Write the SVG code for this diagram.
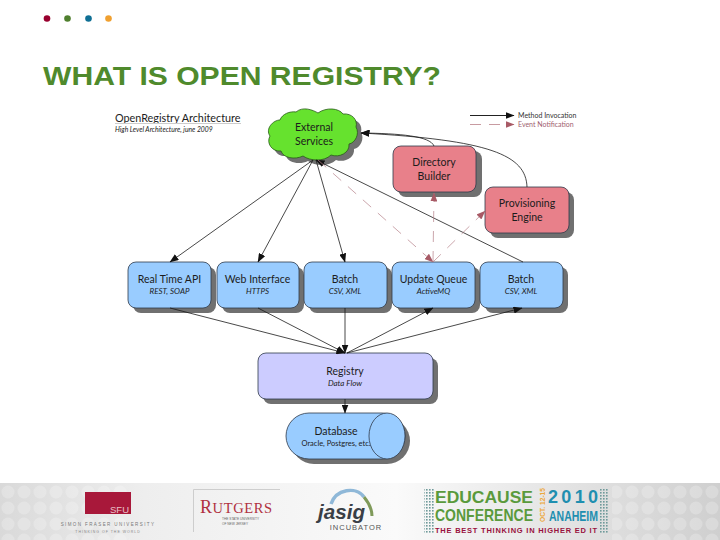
<svg xmlns="http://www.w3.org/2000/svg" width="720" height="540" viewBox="0 0 720 540">
<style>
.t{font-family:"Lato","Liberation Sans",sans-serif;text-anchor:middle;fill:#1c1c1c}
.n{font-size:10.5px}
.s{font-size:8px;font-style:italic}
.box{stroke:#2f3a4a;stroke-width:.8}
.blue{fill:#99ccff}
.red{fill:#e8808a}
.sh{fill:#6f6f6f;filter:url(#b)}
.c{fill:none;stroke:#1a1a1a;stroke-width:.8;marker-end:url(#a)}
.e{fill:none;stroke:#b58088;stroke-width:.7;stroke-dasharray:11 9;marker-end:url(#r)}
</style>
<defs>
<marker id="a" markerWidth="9" markerHeight="7" refX="8.500" refY="3.500" orient="auto" markerUnits="userSpaceOnUse"><path d="M0 0L9 3.500L0 7Z" fill="#111"/></marker>
<marker id="r" markerWidth="9" markerHeight="7" refX="8.500" refY="3.500" orient="auto" markerUnits="userSpaceOnUse"><path d="M0 0L9 3.500L0 7Z" fill="#a85a66"/></marker>
<filter id="b" x="-10%" y="-10%" width="120%" height="120%"><feGaussianBlur stdDeviation=".7"/></filter>
<linearGradient id="band" x1="0" x2="1" y1="0" y2="0"><stop offset="0" stop-color="#d9d9d9"/><stop offset=".2" stop-color="#eeeeee"/><stop offset=".55" stop-color="#fafafa"/><stop offset=".8" stop-color="#e2e2e2"/><stop offset="1" stop-color="#cfcfcf"/></linearGradient>
<pattern id="dots" width="3" height="3" patternUnits="userSpaceOnUse"><rect width="1.600" height="1.600" fill="#6f9a9a"/></pattern>
<pattern id="disc" width="16" height="16" patternUnits="userSpaceOnUse" y="484"><circle cx="8" cy="8" r="6.500" fill="#fff" fill-opacity=".22"/></pattern>
<path id="cl" d="M296 112C303 106 313 110 318 113C326 107 339 108 343 114C352 113 358 120 356 127C360 134 355 143 349 144C350 153 339 158 331 155C324 162 310 161 303 156C295 160 283 158 281 151C272 152 266 143 270 136C265 129 273 120 280 120C282 114 290 111 296 112Z"/>
</defs>
<rect width="720" height="540" fill="#fff"/>
<g id="bullets"><circle cx="47" cy="18.500" r="3.300" fill="#98002e"/><circle cx="67.500" cy="18.500" r="3.300" fill="#4f7f2e"/><circle cx="88.500" cy="18.500" r="3.300" fill="#0f6f94"/><circle cx="108.500" cy="18.500" r="3.300" fill="#f0a030"/></g>
<text x="43" y="85" font-family="Liberation Sans, sans-serif" font-size="25.500" font-weight="bold" textLength="398" lengthAdjust="spacingAndGlyphs" fill="#4f8a2c">WHAT IS OPEN REGISTRY?</text>

<g id="heading"><text x="115" y="121.500" font-family="Lato, sans-serif" font-size="10.800" fill="#1c1c1c">OpenRegistry Architecture</text><line x1="115" y1="123.500" x2="241" y2="123.500" stroke="#ccc"/><text x="115" y="131.500" font-family="Lato, sans-serif" font-size="6.800" font-style="italic" fill="#222">High Level Architecture, june 2009</text></g>

<g id="legend"><line x1="470" y1="115.500" x2="514" y2="115.500" stroke="#222" stroke-width="1.200" marker-end="url(#a)"/><text x="518" y="118" font-family="Lato, sans-serif" font-size="7" fill="#333">Method Invocation</text><line x1="470" y1="124.500" x2="514" y2="124.500" stroke="#b07078" stroke-width=".7" stroke-dasharray="11 8" marker-end="url(#r)"/><text x="518" y="127" font-family="Lato, sans-serif" font-size="7" fill="#a06070">Event Notification</text></g>

<g id="external-services"><use href="#cl" x="5" y="5" class="sh"/><use href="#cl" fill="#66e22e" stroke="#2a5a1a" stroke-width=".8"/><text class="t n" x="314" y="131">External</text><text class="t n" x="314" y="145">Services</text></g>
<g id="directory-builder"><rect class="sh" x="398" y="151" width="84" height="46" rx="8"/><rect class="box red" x="393" y="146" width="83" height="46" rx="8"/><text class="t n" x="434" y="166">Directory</text><text class="t n" x="434" y="180">Builder</text></g>
<g id="provisioning-engine"><rect class="sh" x="490" y="192" width="84" height="46" rx="8"/><rect class="box red" x="485" y="187" width="84" height="46" rx="8"/><text class="t n" x="527" y="207">Provisioning</text><text class="t n" x="527" y="221">Engine</text></g>

<g id="real-time-api"><rect class="sh" x="133" y="267" width="83" height="46" rx="8"/><rect class="box blue" x="128" y="262" width="83" height="46" rx="8"/><text class="t n" x="169.500" y="283">Real Time API</text><text class="t s" x="169.500" y="294">REST, SOAP</text></g>
<g id="web-interface"><rect class="sh" x="222" y="267" width="82" height="46" rx="8"/><rect class="box blue" x="217" y="262" width="82" height="46" rx="8"/><text class="t n" x="257.500" y="283">Web Interface</text><text class="t s" x="257.500" y="294">HTTPS</text></g>
<g id="batch-1"><rect class="sh" x="309" y="267" width="83" height="46" rx="8"/><rect class="box blue" x="304" y="262" width="83" height="46" rx="8"/><text class="t n" x="345" y="283">Batch</text><text class="t s" x="345" y="294">CSV, XML</text></g>
<g id="update-queue"><rect class="sh" x="397" y="267" width="83" height="46" rx="8"/><rect class="box blue" x="392" y="262" width="83" height="46" rx="8"/><text class="t n" x="433.500" y="283">Update Queue</text><text class="t s" x="433.500" y="294">ActiveMQ</text></g>
<g id="batch-2"><rect class="sh" x="485" y="267" width="83" height="46" rx="8"/><rect class="box blue" x="480" y="262" width="83" height="46" rx="8"/><text class="t n" x="521" y="283">Batch</text><text class="t s" x="521" y="294">CSV, XML</text></g>

<g id="registry"><rect class="sh" x="263" y="358" width="175" height="46" rx="8"/><rect class="box" x="258" y="353" width="175" height="46" rx="8" fill="#ccccff"/><text class="t n" x="345" y="375">Registry</text><text class="t s" x="345" y="386">Data Flow</text></g>
<g id="database"><rect class="sh" x="291" y="418" width="119" height="46" rx="23"/><rect class="box blue" x="286" y="413" width="119" height="46" rx="23"/><ellipse class="box blue" cx="387" cy="436" rx="18" ry="23"/><text class="t n" x="336" y="435">Database</text><text class="t" x="336" y="446" font-size="7.500">Oracle, Postgres, etc.</text></g>

<g id="connectors">
<path class="c" d="M313 160L170 262"/>
<path class="c" d="M313 160L258 262"/>
<path class="c" d="M316 160L345 262"/>
<path class="c" d="M523 262L316 160"/>
<path class="c" d="M434 146C430 136 400 133.500 361 133"/>
<path class="c" d="M527 187C526 155 490 140 361 133"/>
<path class="e" d="M318 160L433 262"/>
<path class="e" d="M433 262L434 193"/>
<path class="e" d="M433 262L485 211"/>
<path class="c" d="M170 308L345 353"/>
<path class="c" d="M258 308L345 353"/>
<path class="c" d="M345 308V353"/>
<path class="c" d="M347 353L433 308"/>
<path class="c" d="M347 353L522 308"/>
<path class="c" d="M345 399V413"/>
</g>

<g id="footer">
<rect y="483" width="720" height="57" fill="url(#band)"/>
<rect x="0" y="484" width="130" height="56" fill="url(#disc)"/>
<rect x="612" y="484" width="108" height="56" fill="url(#disc)"/>
<rect x="85" y="492" width="46" height="22" fill="#a8183a"/>
<text x="129" y="513" font-family="Liberation Sans, sans-serif" font-size="9.500" fill="#e8c0c8" text-anchor="end">SFU</text>
<text x="108" y="526" font-family="Liberation Sans, sans-serif" font-size="4.500" letter-spacing="1.400" fill="#777" text-anchor="middle">SIMON FRASER UNIVERSITY</text>
<text x="108" y="532.500" font-family="Liberation Sans, sans-serif" font-size="3.500" letter-spacing="1" fill="#888" text-anchor="middle">THINKING OF THE WORLD</text>
<path d="M193.500 532V489.500H280" fill="none" stroke="#c4c4c4" stroke-width=".8"/>
<text x="200" y="512.500" font-family="Liberation Serif, serif" font-size="18" textLength="72" lengthAdjust="spacing" fill="#b03040">R<tspan font-size="14.500">UTGERS</tspan></text>
<text x="222" y="520" font-family="Liberation Sans, sans-serif" font-size="3.200" fill="#666">THE STATE UNIVERSITY</text>
<text x="222" y="524.500" font-family="Liberation Sans, sans-serif" font-size="3.200" fill="#666">OF NEW JERSEY</text>
<path d="M331 504C336 489 356 486 364 497" fill="none" stroke="#8fb8d8" stroke-width="3.500"/>
<path d="M364 497C369 503 372 509 372 516" fill="none" stroke="#7f9a5a" stroke-width="3"/>
<text x="318" y="519" font-family="Liberation Sans, sans-serif" font-size="21" font-style="italic" font-weight="bold" textLength="47" lengthAdjust="spacingAndGlyphs" fill="#3a3f46">jasig</text>
<text x="356" y="530" font-family="Liberation Sans, sans-serif" font-size="7.500" letter-spacing="1" fill="#555" text-anchor="middle">INCUBATOR</text>
<rect x="424" y="489" width="10" height="44" fill="url(#dots)"/>
<rect x="599" y="489" width="10" height="44" fill="url(#dots)"/>
<text x="435" y="502.500" font-family="Liberation Sans, sans-serif" font-size="17" font-weight="bold" textLength="98" lengthAdjust="spacingAndGlyphs" fill="#5a9a3c">EDUCAUSE</text>
<text x="435" y="521" font-family="Liberation Sans, sans-serif" font-size="17" font-weight="bold" textLength="98" lengthAdjust="spacingAndGlyphs" fill="#5a9a3c">CONFERENCE</text>
<text x="548" y="503" font-family="Liberation Sans, sans-serif" font-size="18" font-weight="bold" textLength="50" lengthAdjust="spacing" fill="#1f8fb0">2010</text>
<text x="549" y="521" font-family="Liberation Sans, sans-serif" font-size="15" font-weight="bold" textLength="49" lengthAdjust="spacingAndGlyphs" fill="#1f8fb0">ANAHEIM</text>
<text transform="translate(544.500 522) rotate(-90)" font-family="Liberation Sans, sans-serif" font-size="7.500" font-weight="bold" textLength="34" lengthAdjust="spacingAndGlyphs" fill="#eda83c">OCT. 12-15</text>
<text x="435" y="532.500" font-family="Liberation Sans, sans-serif" font-size="7.500" font-weight="bold" textLength="162" lengthAdjust="spacing" fill="#98123e">THE BEST THINKING IN HIGHER ED IT</text>
</g>
</svg>
